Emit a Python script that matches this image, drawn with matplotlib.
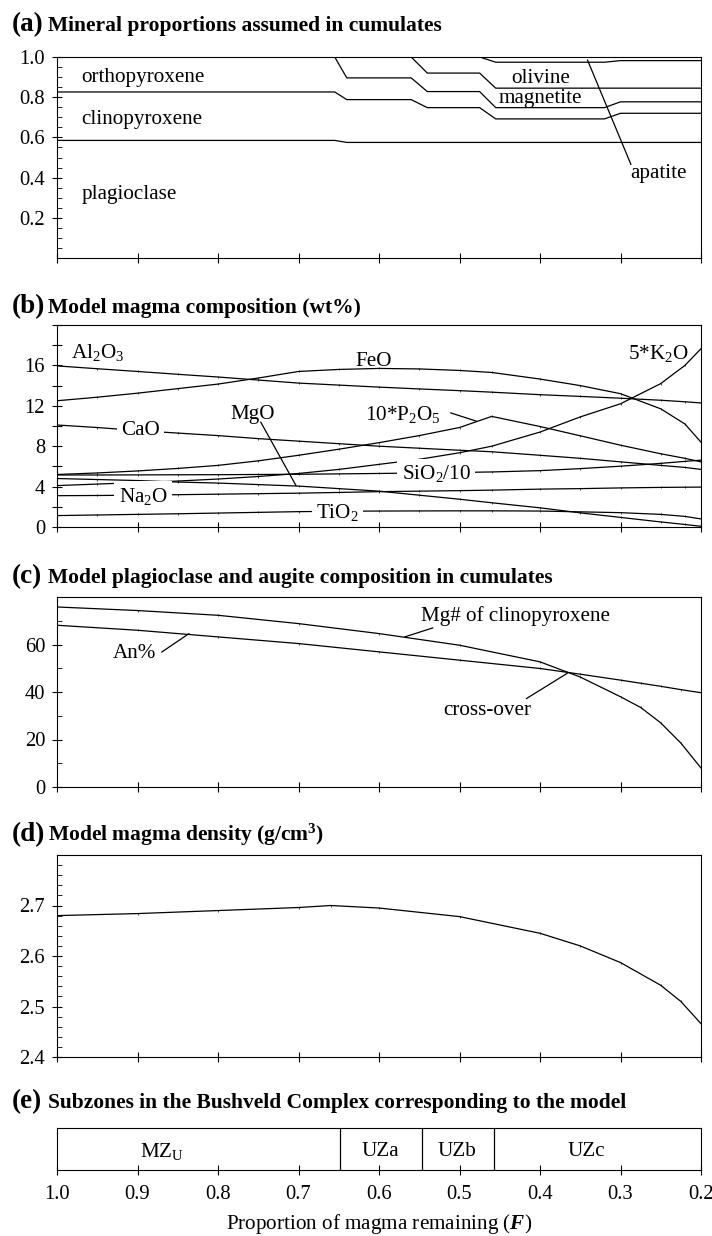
import numpy as np
import matplotlib
matplotlib.use("Agg")
import matplotlib.pyplot as plt
from matplotlib.ticker import MultipleLocator

plt.rcParams['font.family'] = 'Liberation Serif'
plt.rcParams['mathtext.fontset'] = 'custom'
plt.rcParams['mathtext.rm'] = 'Liberation Serif'
plt.rcParams['mathtext.it'] = 'Liberation Serif:italic'
plt.rcParams['mathtext.bf'] = 'Liberation Serif:bold'
plt.rcParams['mathtext.bfit'] = 'Liberation Serif:bold:italic'

# ---------------- (a) mineral proportions in cumulates ----------------
F_a = [1.0, 0.655, 0.64, 0.56, 0.54, 0.475, 0.455, 0.32, 0.30, 0.2]
plag = [0.585, 0.585, 0.575, 0.575, 0.575, 0.575, 0.575, 0.575, 0.575, 0.575]
cpx = [0.241, 0.241, 0.213, 0.213, 0.173, 0.173, 0.117, 0.117, 0.145, 0.145]
opx = [0.174, 0.174, 0.108, 0.108, 0.080, 0.080, 0.056, 0.056, 0.057, 0.057]
mag = [0.0, 0.0, 0.104, 0.104, 0.092, 0.092, 0.097, 0.097, 0.068, 0.068]
oliv = [0.0, 0.0, 0.0, 0.0, 0.080, 0.080, 0.129, 0.129, 0.137, 0.137]

# ---------------- (b) magma composition (wt%) ----------------
F_b = [1.0, 0.95, 0.9, 0.85, 0.8, 0.75, 0.7, 0.65, 0.6, 0.55, 0.5, 0.46,
       0.4, 0.35, 0.3, 0.25, 0.22, 0.2]
al2o3 = [15.95, 15.67, 15.4, 15.12, 14.85, 14.55, 14.25, 14.05, 13.85, 13.67,
         13.5, 13.35, 13.1, 12.93, 12.75, 12.55, 12.4, 12.28]
feo = [12.5, 12.85, 13.25, 13.7, 14.15, 14.75, 15.4, 15.6, 15.7, 15.65,
       15.5, 15.3, 14.65, 14.0, 13.2, 11.7, 10.2, 8.4]
cao = [10.1, 9.85, 9.55, 9.3, 9.05, 8.75, 8.5, 8.25, 8.0, 7.8,
       7.6, 7.45, 7.1, 6.8, 6.45, 6.1, 5.9, 5.7]
sio2_10 = [5.15, 5.15, 5.16, 5.17, 5.18, 5.2, 5.22, 5.26, 5.3, 5.35,
           5.4, 5.45, 5.58, 5.78, 6.02, 6.3, 6.5, 6.62]
p2o5_10 = [5.2, 5.35, 5.55, 5.8, 6.1, 6.55, 7.1, 7.7, 8.35, 9.05,
           9.85, 10.95, 9.95, 9.03, 8.1, 7.25, 6.8, 6.45]
k2o_5 = [4.1, 4.25, 4.4, 4.55, 4.75, 5.0, 5.3, 5.7, 6.2, 6.7,
         7.35, 8.0, 9.4, 10.9, 12.2, 14.2, 16.0, 17.65]
mgo = [4.8, 4.7, 4.6, 4.45, 4.35, 4.2, 4.05, 3.8, 3.55, 3.15,
       2.75, 2.4, 1.9, 1.4, 0.95, 0.5, 0.25, 0.07]
na2o = [3.1, 3.12, 3.15, 3.2, 3.25, 3.3, 3.35, 3.42, 3.5, 3.55,
        3.6, 3.65, 3.75, 3.8, 3.87, 3.92, 3.94, 3.95]
tio2 = [1.13, 1.19, 1.25, 1.31, 1.38, 1.45, 1.52, 1.56, 1.58, 1.59,
        1.6, 1.6, 1.58, 1.5, 1.42, 1.25, 1.05, 0.8]

# ---------------- (c) plagioclase and augite composition ----------------
F_c = [1.0, 0.9, 0.8, 0.7, 0.6, 0.5, 0.4, 0.35, 0.3, 0.275, 0.25, 0.225, 0.2]
mg_cpx = [75.8, 74.3, 72.3, 68.8, 64.6, 59.7, 52.7, 46.3, 38.0, 33.5, 27.0, 18.5, 8.0]
an_pct = [68.1, 66.0, 63.2, 60.4, 56.9, 53.4, 49.9, 47.5, 45.0, 43.7, 42.4, 41.0, 39.7]

# ---------------- (d) magma density ----------------
F_d = [1.0, 0.9, 0.8, 0.7, 0.66, 0.6, 0.5, 0.4, 0.35, 0.3, 0.25, 0.225, 0.2]
density = [2.680, 2.684, 2.690, 2.696, 2.700, 2.695, 2.678, 2.645, 2.620,
           2.587, 2.542, 2.510, 2.466]

# ---------------- (e) subzones ----------------
zone_bounds = [0.648, 0.546, 0.457]
zone_names = ['MZ$_\\mathrm{U}$', 'UZa', 'UZb', 'UZc']
zone_label_F = [0.869, 0.598, 0.503, 0.343]

W, H = 712, 1236
fig = plt.figure(figsize=(W / 100, H / 100), dpi=100)

FS = 15.2      # labels inside the panels
TFS = 14.8     # tick labels
LW = 0.9


def rect(top, bottom):
    return [57 / W, 1 - bottom / H, (701 - 57) / W, (bottom - top) / H]


def style(ax):
    ax.set_xlim(1.0, 0.2)
    ax.xaxis.set_major_locator(MultipleLocator(0.1))
    ax.tick_params(axis='x', direction='inout', length=7, width=0.8,
                   labelbottom=False, labelsize=TFS)
    ax.tick_params(axis='y', which='major', direction='inout', length=7,
                   width=0.8, labelsize=TFS, pad=5)
    ax.tick_params(axis='y', which='minor', direction='in', length=3.5, width=0.6)
    for s in ax.spines.values():
        s.set_linewidth(0.8)


def title(y, letter, text):
    fig.text(12 / W, 1 - y / H, letter, fontsize=19.5, fontweight='bold', va='baseline')
    fig.text(48 / W, 1 - y / H, text, fontsize=15.5, fontweight='bold', va='baseline')


def line(ax, x, y):
    ax.plot(x, y, color='black', lw=LW, marker='|', ms=1.8, mew=0.5)


def pointer(ax, p0, p1):
    ax.annotate('', xy=p1, xytext=p0,
                arrowprops=dict(arrowstyle='-', lw=LW, color='black',
                                shrinkA=0, shrinkB=0))


white = dict(boxstyle='square,pad=0.2', facecolor='white', edgecolor='none')

# (a)
ax = fig.add_axes(rect(57, 258))
style(ax)
bounds = np.cumsum([plag, cpx, opx, mag, oliv], axis=0)
for b in bounds:
    ax.plot(F_a, b, color='black', lw=LW)
ax.set_ylim(0, 1.0)
ax.set_yticks([0.2, 0.4, 0.6, 0.8, 1.0])
ax.set_yticklabels(['0.2', '0.4', '0.6', '0.8', '1.0'])
ax.yaxis.set_minor_locator(MultipleLocator(0.05))
ax.text(0.970, 0.90, 'orthopyroxene', fontsize=FS, va='center')
ax.text(0.970, 0.687, 'clinopyroxene', fontsize=FS, va='center')
ax.text(0.970, 0.318, 'plagioclase', fontsize=FS, va='center')
ax.text(0.399, 0.894, 'olivine', fontsize=FS, ha='center', va='center')
ax.text(0.399, 0.795, 'magnetite', fontsize=FS, ha='center', va='center')
ax.text(0.288, 0.42, 'apatite', fontsize=FS, va='center')
pointer(ax, (0.341, 0.985), (0.287, 0.465))
title(31, '(a)', 'Mineral proportions assumed in cumulates')

# (b)
ax = fig.add_axes(rect(325, 527))
style(ax)
for series in [al2o3, feo, cao, sio2_10, p2o5_10, k2o_5, mgo, na2o, tio2]:
    line(ax, F_b, series)
ax.set_ylim(0, 20)
ax.set_yticks([0, 4, 8, 12, 16])
ax.yaxis.set_minor_locator(MultipleLocator(2))
ax.tick_params(axis='y', which='minor', direction='inout', length=7, width=0.8)
ax.text(0.983, 17.3, 'Al$_2$O$_3$', fontsize=FS, va='center')
ax.text(0.629, 16.4, 'FeO', fontsize=FS, va='center')
ax.text(0.757, 11.1, 'MgO', fontsize=FS, ha='center', va='center')
pointer(ax, (0.747, 10.4), (0.703, 4.09))
ax.text(0.896, 9.6, 'CaO', fontsize=FS, ha='center', va='center', bbox=white, zorder=2.2)
ax.text(0.893, 3.05, 'Na$_2$O', fontsize=FS, ha='center', va='center', bbox=white, zorder=2.2)
ax.text(0.652, 1.45, 'TiO$_2$', fontsize=FS, ha='center', va='center', bbox=white, zorder=2.2)
ax.text(0.570, 11.1, '10*P$_2$O$_5$', fontsize=FS, ha='center', va='center')
pointer(ax, (0.511, 11.3), (0.478, 10.45))
ax.text(0.529, 5.3, 'SiO$_2$/10', fontsize=FS, ha='center', va='center', bbox=white, zorder=2.2)
ax.text(0.253, 17.2, '5*K$_2$O', fontsize=FS, ha='center', va='center')
title(313, '(b)', 'Model magma composition (wt%)')

# (c)
ax = fig.add_axes(rect(597, 787))
style(ax)
line(ax, F_c, mg_cpx)
line(ax, F_c, an_pct)
ax.set_ylim(0, 80)
ax.set_yticks([0, 20, 40, 60])
ax.yaxis.set_minor_locator(MultipleLocator(10))
ax.text(0.431, 72.1, 'Mg# of clinopyroxene', fontsize=FS, ha='center', va='center')
pointer(ax, (0.533, 67.0), (0.568, 63.2))
ax.text(0.904, 56.1, 'An%', fontsize=FS, ha='center', va='center')
pointer(ax, (0.870, 56.8), (0.836, 64.6))
ax.text(0.466, 32.3, 'cross-over', fontsize=FS, ha='center', va='center')
pointer(ax, (0.417, 37.2), (0.366, 47.9))
title(583, '(c)', 'Model plagioclase and augite composition in cumulates')

# (d)
ax = fig.add_axes(rect(855, 1057))
style(ax)
line(ax, F_d, density)
ax.set_ylim(2.4, 2.8)
ax.set_yticks([2.4, 2.5, 2.6, 2.7])
ax.set_yticklabels(['2.4', '2.5', '2.6', '2.7'])
ax.yaxis.set_minor_locator(MultipleLocator(0.02))
title(841, '(d)', 'Model magma density (g/cm$^\\mathbf{3}$)')

# (e)
ax = fig.add_axes(rect(1128, 1170))
style(ax)
ax.set_ylim(0, 1)
ax.set_yticks([])
ax.tick_params(axis='x', labelbottom=True, pad=7)
ax.set_xticks([1.0, 0.9, 0.8, 0.7, 0.6, 0.5, 0.4, 0.3, 0.2])
ax.set_xticklabels(['1.0', '0.9', '0.8', '0.7', '0.6', '0.5', '0.4', '0.3', '0.2'])
for b in zone_bounds:
    ax.axvline(b, color='black', lw=LW)
for name, f in zip(zone_names, zone_label_F):
    ax.text(f, 0.45, name, fontsize=FS, ha='center', va='center')
ax.set_xlabel('Proportion of magma remaining ($\\mathbfit{F}$)', fontsize=FS, labelpad=6)
title(1108, '(e)', 'Subzones in the Bushveld Complex corresponding to the model')

fig.savefig('out.png', dpi=100)
